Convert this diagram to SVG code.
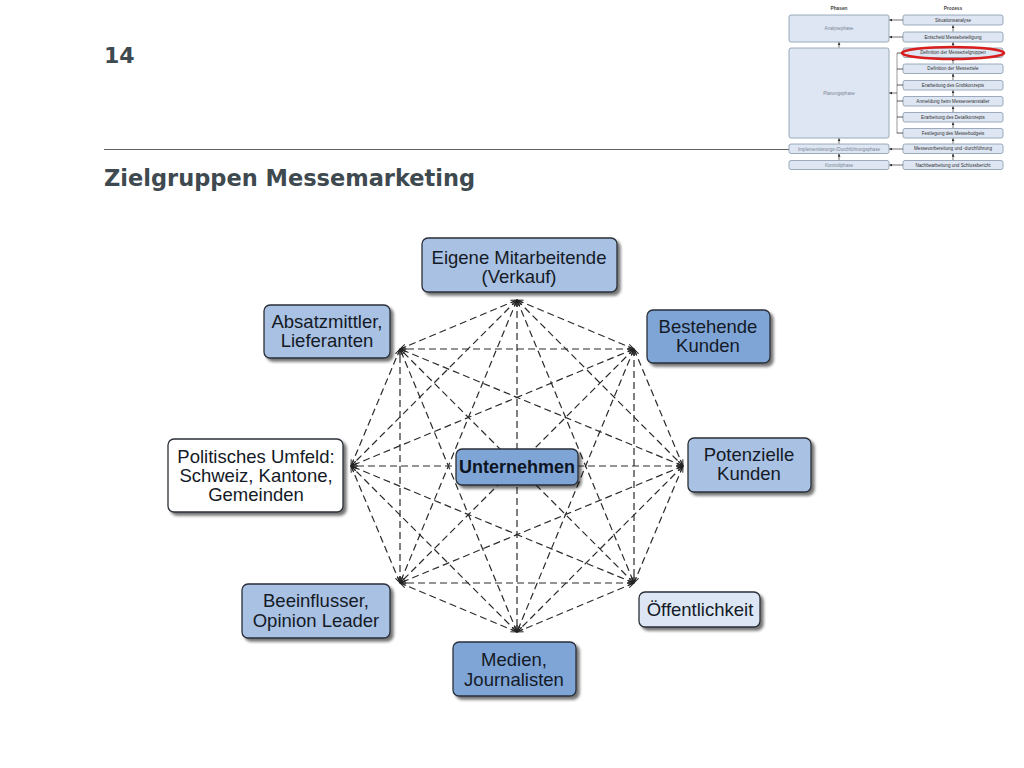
<svg xmlns="http://www.w3.org/2000/svg" width="1024" height="768" viewBox="0 0 1024 768">
<defs>
<style>
.hdr{font-family:"DejaVu Sans",Verdana,sans-serif;font-weight:bold;fill:#3e4a50}
.box{stroke:#2a2f38;stroke-width:1.3}
.t{font-family:"Liberation Sans",Arial,sans-serif;font-size:18.5px;fill:#141a26;text-anchor:middle}
.tb{font-family:"Liberation Sans",Arial,sans-serif;font-size:18px;font-weight:bold;fill:#0d1422;text-anchor:middle}
.e{fill:none;stroke:#2b2b2b;stroke-width:1.2;stroke-dasharray:7 4;marker-start:url(#ah);marker-end:url(#ah)}
.sb{fill:#dde6f2;stroke:#8797ab;stroke-width:0.8}
.st{font-family:"Liberation Sans",Arial,sans-serif;font-size:4.6px;fill:#333;text-anchor:middle}
.sp{font-family:"Liberation Sans",Arial,sans-serif;font-size:4.6px;fill:#7a8596;text-anchor:middle}
.sh{font-family:"Liberation Sans",Arial,sans-serif;font-size:4.8px;font-weight:bold;fill:#444;text-anchor:middle}
.sa{fill:none;stroke:#333;stroke-width:0.7;marker-end:url(#sah)}
.l1{fill:#a9c1e3}.l2{fill:#7fa5d7}.l3{fill:#dce6f4}.l4{fill:#ffffff}
</style>
<marker id="ah" viewBox="0 0 7 6" refX="6.5" refY="3" markerWidth="7" markerHeight="6" markerUnits="userSpaceOnUse" orient="auto-start-reverse">
<path d="M0.3,0.6 L6.5,3 L0.3,5.4" fill="none" stroke="#222" stroke-width="1"/>
</marker>
<marker id="sah" viewBox="0 0 4 4" refX="3.5" refY="2" markerWidth="3" markerHeight="3" markerUnits="userSpaceOnUse" orient="auto">
<path d="M0,0 L4,2 L0,4 z" fill="#333"/>
</marker>
<filter id="sh" x="-10%" y="-10%" width="130%" height="140%">
<feGaussianBlur in="SourceAlpha" stdDeviation="1.6"/>
<feOffset dx="3" dy="3" result="o"/>
<feComponentTransfer><feFuncA type="linear" slope="0.55"/></feComponentTransfer>
<feMerge><feMergeNode/><feMergeNode in="SourceGraphic"/></feMerge>
</filter>
</defs>
<rect width="1024" height="768" fill="#ffffff"/>

<g id="header">
<text class="hdr" x="104" y="63" font-size="22">14</text>
<line x1="104" y1="149.5" x2="790" y2="149.5" stroke="#5f6468" stroke-width="1.2"/>
<text class="hdr" x="104" y="186" font-size="22.5">Zielgruppen Messemarketing</text>
</g>

<g id="process-overview">
<text class="sh" x="839" y="10">Phasen</text>
<text class="sh" x="953" y="10">Prozess</text>
<rect class="sb" x="789" y="15" width="100" height="27" rx="2"/>
<text class="sp" x="839" y="30">Analysephase</text>
<rect class="sb" x="789" y="48" width="100" height="90" rx="2"/>
<text class="sp" x="839" y="95">Planungsphase</text>
<rect class="sb" x="789" y="144" width="100" height="9.5" rx="2"/>
<text class="sp" x="839" y="150.5">Implementierungs-/Durchführungsphase</text>
<rect class="sb" x="789" y="160.5" width="100" height="9" rx="2"/>
<text class="sp" x="839" y="166.6">Kontrollphase</text>

<rect class="sb" x="903" y="15" width="100" height="10" rx="2"/>
<text class="st" x="953" y="21.6">Situationsanalyse</text>
<rect class="sb" x="903" y="32" width="100" height="10" rx="2"/>
<text class="st" x="953" y="38.6">Entscheid Messebeteiligung</text>
<rect class="sb" x="903" y="48" width="100" height="9.5" rx="2"/>
<text class="st" x="953" y="54.4">Definition der Messezielgruppen</text>
<rect class="sb" x="903" y="64" width="100" height="9.5" rx="2"/>
<text class="st" x="953" y="70.4">Definition der Messeziele</text>
<rect class="sb" x="903" y="80.5" width="100" height="9.5" rx="2"/>
<text class="st" x="953" y="86.9">Erarbeitung des Grobkonzepts</text>
<rect class="sb" x="903" y="96.5" width="100" height="9.5" rx="2"/>
<text class="st" x="953" y="102.9">Anmeldung beim Messeveranstalter</text>
<rect class="sb" x="903" y="112.5" width="100" height="9.5" rx="2"/>
<text class="st" x="953" y="118.9">Erarbeitung des Detailkonzepts</text>
<rect class="sb" x="903" y="128.5" width="100" height="9.5" rx="2"/>
<text class="st" x="953" y="134.9">Festlegung des Messebudgets</text>
<rect class="sb" x="903" y="144" width="100" height="9.5" rx="2"/>
<text class="st" x="953" y="150.4">Messevorbereitung und -durchführung</text>
<rect class="sb" x="903" y="160.5" width="100" height="9" rx="2"/>
<text class="st" x="953" y="166.6">Nachbearbeitung und Schlussbericht</text>

<line class="sa" x1="903" y1="20" x2="889.5" y2="20"/>
<line class="sa" x1="903" y1="37" x2="889.5" y2="37"/>
<line x1="897" y1="53" x2="897" y2="133.5" stroke="#555" stroke-width="0.6"/>
<path d="M903,53H897M903,69H897M903,85H897M903,101H897M903,117H897M903,133H897" stroke="#333" stroke-width="0.8" fill="none"/>
<line class="sa" x1="897" y1="93" x2="889.5" y2="93"/>
<line class="sa" x1="903" y1="149" x2="889.5" y2="149"/>
<line class="sa" x1="903" y1="165" x2="889.5" y2="165"/>
<line class="sa" x1="953" y1="31.5" x2="953" y2="25.5"/>
<line class="sa" x1="953" y1="47.5" x2="953" y2="42.5"/>
<line class="sa" x1="953" y1="63.5" x2="953" y2="58"/>
<line class="sa" x1="953" y1="80" x2="953" y2="74"/>
<line class="sa" x1="953" y1="96" x2="953" y2="90.5"/>
<line class="sa" x1="953" y1="112" x2="953" y2="106.5"/>
<line class="sa" x1="953" y1="128" x2="953" y2="122.5"/>
<line class="sa" x1="953" y1="143.5" x2="953" y2="138.5"/>
<line class="sa" x1="953" y1="160" x2="953" y2="154"/>
<line class="sa" x1="839" y1="47.5" x2="839" y2="42.5"/>
<line class="sa" x1="839" y1="143.5" x2="839" y2="138.5"/>
<line class="sa" x1="839" y1="160" x2="839" y2="154"/>
<ellipse cx="953" cy="53" rx="51" ry="6" fill="none" stroke="#d91e1e" stroke-width="2.6"/>
</g>

<g id="connectors">
<line class="e" x1="517" y1="300" x2="634" y2="349"/>
<line class="e" x1="517" y1="300" x2="683" y2="466"/>
<line class="e" x1="517" y1="300" x2="634" y2="583"/>
<line class="e" x1="517" y1="300" x2="517" y2="632"/>
<line class="e" x1="517" y1="300" x2="400" y2="583"/>
<line class="e" x1="517" y1="300" x2="351" y2="466"/>
<line class="e" x1="517" y1="300" x2="400" y2="349"/>
<line class="e" x1="634" y1="349" x2="683" y2="466"/>
<line class="e" x1="634" y1="349" x2="634" y2="583"/>
<line class="e" x1="634" y1="349" x2="517" y2="632"/>
<line class="e" x1="634" y1="349" x2="400" y2="583"/>
<line class="e" x1="634" y1="349" x2="351" y2="466"/>
<line class="e" x1="634" y1="349" x2="400" y2="349"/>
<line class="e" x1="683" y1="466" x2="634" y2="583"/>
<line class="e" x1="683" y1="466" x2="517" y2="632"/>
<line class="e" x1="683" y1="466" x2="400" y2="583"/>
<line class="e" x1="683" y1="466" x2="351" y2="466"/>
<line class="e" x1="683" y1="466" x2="400" y2="349"/>
<line class="e" x1="634" y1="583" x2="517" y2="632"/>
<line class="e" x1="634" y1="583" x2="400" y2="583"/>
<line class="e" x1="634" y1="583" x2="351" y2="466"/>
<line class="e" x1="634" y1="583" x2="400" y2="349"/>
<line class="e" x1="517" y1="632" x2="400" y2="583"/>
<line class="e" x1="517" y1="632" x2="351" y2="466"/>
<line class="e" x1="517" y1="632" x2="400" y2="349"/>
<line class="e" x1="400" y1="583" x2="351" y2="466"/>
<line class="e" x1="400" y1="583" x2="400" y2="349"/>
<line class="e" x1="351" y1="466" x2="400" y2="349"/>
</g>

<g id="node-eigene-mitarbeitende">
<rect class="box l1" x="422" y="238" width="195" height="54" rx="6" filter="url(#sh)"/>
<text class="t" x="519" y="264">Eigene Mitarbeitende</text>
<text class="t" x="519" y="283">(Verkauf)</text>
</g>
<g id="node-absatzmittler">
<rect class="box l1" x="264" y="305" width="126" height="53" rx="6" filter="url(#sh)"/>
<text class="t" x="327" y="328">Absatzmittler,</text>
<text class="t" x="327" y="347">Lieferanten</text>
</g>
<g id="node-bestehende-kunden">
<rect class="box l2" x="647" y="310" width="123" height="53" rx="6" filter="url(#sh)"/>
<text class="t" x="708" y="333">Bestehende</text>
<text class="t" x="708" y="352">Kunden</text>
</g>
<g id="node-potenzielle-kunden">
<rect class="box l1" x="688" y="438" width="123" height="54" rx="6" filter="url(#sh)"/>
<text class="t" x="749" y="461">Potenzielle</text>
<text class="t" x="749" y="480">Kunden</text>
</g>
<g id="node-politisches-umfeld">
<rect class="box l4" x="168" y="439" width="175" height="73" rx="6" filter="url(#sh)"/>
<text class="t" x="256" y="463">Politisches Umfeld:</text>
<text class="t" x="256" y="482">Schweiz, Kantone,</text>
<text class="t" x="256" y="501">Gemeinden</text>
</g>
<g id="node-unternehmen">
<rect class="box l2" x="456" y="449" width="122" height="36" rx="6" filter="url(#sh)"/>
<text class="tb" x="517" y="473">Unternehmen</text>
</g>
<g id="node-beeinflusser">
<rect class="box l1" x="242" y="584" width="148" height="54" rx="6" filter="url(#sh)"/>
<text class="t" x="316" y="607">Beeinflusser,</text>
<text class="t" x="316" y="627">Opinion Leader</text>
</g>
<g id="node-oeffentlichkeit">
<rect class="box l3" x="639" y="592" width="121" height="35" rx="6" filter="url(#sh)"/>
<text class="t" x="700" y="616">Öffentlichkeit</text>
</g>
<g id="node-medien">
<rect class="box l2" x="453" y="642" width="123" height="54" rx="6" filter="url(#sh)"/>
<text class="t" x="514" y="666">Medien,</text>
<text class="t" x="514" y="686">Journalisten</text>
</g>
</svg>
